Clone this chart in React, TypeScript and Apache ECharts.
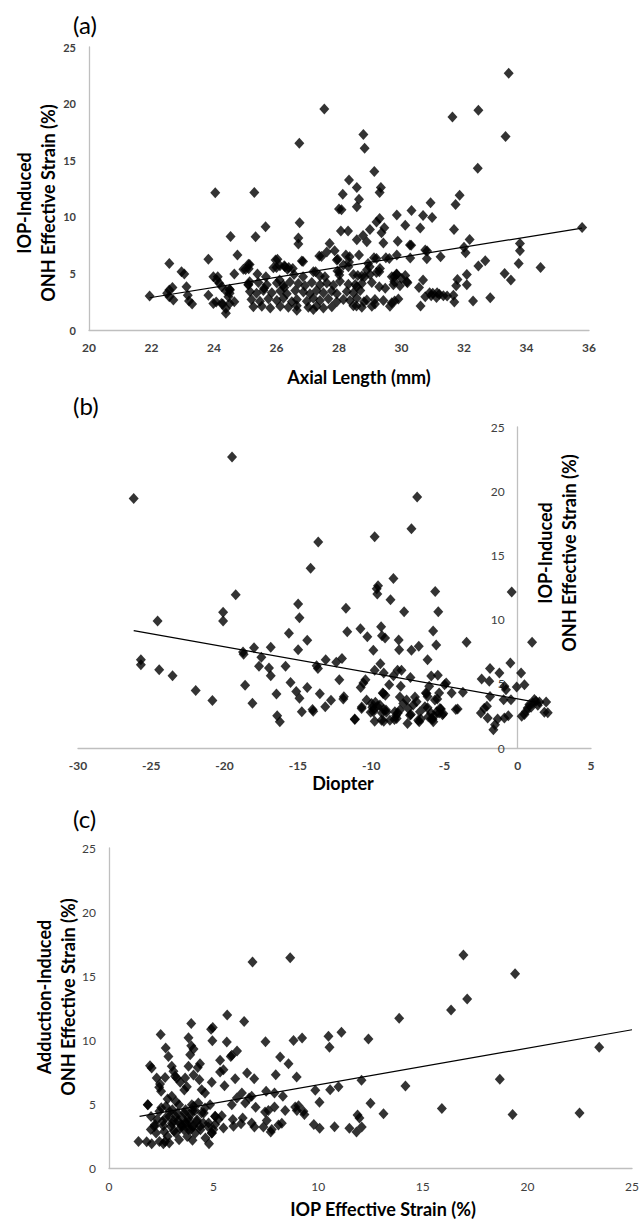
import React, { useEffect, useRef } from "react";
import * as echarts from "echarts";

// ---------- Panel (a): Axial Length (mm) vs IOP-induced ONH strain (%) ----------
const axialTicksA = [20, 36, 2];
const pointsA: number[][] = [
  [33.43,22.68],[27.53,19.53],[32.46,19.41],[31.63,18.82],[33.33,17.09],[28.78,17.26],[28.82,16.06],[26.73,16.5],
  [32.44,14.29],[29.13,14.0],[28.32,13.24],[28.57,12.59],[29.34,12.59],[29.3,12.15],[24.04,12.12],[25.29,12.15],
  [28.12,12.0],[28.64,11.56],[31.86,11.91],[30.93,11.24],[31.73,11.09],[28.57,10.88],[28.0,10.68],[28.08,10.62],
  [30.32,10.56],[29.85,10.15],[30.69,10.12],[30.98,9.94],[29.3,9.85],[29.2,9.53],[26.74,9.47],[25.65,9.12],
  [29.45,9.03],[28.99,8.88],[30.6,9.0],[31.68,8.88],[35.78,9.06],[28.06,8.74],[28.29,8.74],[30.12,9.26],
  [24.53,8.26],[25.33,8.24],[26.7,8.12],[28.77,8.35],[28.57,7.97],[28.89,7.79],[29.36,8.59],[32.18,8.0],
  [26.7,7.59],[27.7,7.65],[29.42,7.68],[29.88,7.85],[30.27,7.5],[30.31,7.48],[32.0,7.32],[33.79,7.65],
  [32.05,6.82],[33.79,7.0],[27.86,7.0],[24.75,6.62],[28.64,6.62],[30.76,7.06],[30.82,6.97],[27.44,6.5],
  [28.34,6.47],[29.2,6.32],[29.61,6.32],[30.28,6.35],[31.25,6.47],[30.81,6.29],[23.82,6.26],[26.03,6.24],
  [27.96,6.24],[26.85,6.06],[28.32,6.0],[32.68,6.12],[32.46,5.65],[33.75,5.88],[34.45,5.53],[22.57,5.88],
  [25.14,5.79],[26.25,5.68],[26.39,5.53],[26.0,5.53],[28.93,5.88],[28.98,5.59],[25.11,5.41],[25.01,5.35],
  [22.96,5.15],[23.05,4.94],[24.65,4.94],[25.39,4.94],[27.25,5.15],[28.01,5.15],[29.29,5.15],[29.84,4.94],
  [30.12,4.82],[33.3,5.0],[32.09,4.91],[33.5,4.41],[31.79,4.47],[24.12,4.71],[25.66,4.71],[26.85,4.71],
  [27.55,4.71],[28.6,4.82],[28.82,4.71],[29.77,4.71],[30.69,4.41],[32.09,4.0],[29.77,4.26],[30.19,4.18],
  [24.17,4.12],[25.14,4.26],[26.1,4.41],[25.1,3.97],[22.57,3.53],[22.67,3.76],[23.12,3.82],[24.5,3.59],
  [25.6,3.68],[26.25,3.76],[28.52,4.03],[28.57,3.82],[29.29,3.82],[29.48,3.68],[30.56,3.76],[31.75,3.91],
  [30.9,3.3],[31.0,3.24],[31.14,3.3],[31.21,3.15],[30.95,3.03],[31.12,2.88],[30.76,2.94],[31.34,3.03],
  [31.46,3.0],[31.66,3.06],[32.84,2.85],[32.29,2.56],[31.69,2.47],[30.61,2.12],[29.9,2.74],[29.78,2.56],
  [29.69,2.41],[29.15,2.29],[28.8,2.5],[28.56,2.12],[23.82,3.06],[23.16,3.06],[21.94,3.0],[22.5,3.24],
  [22.57,2.94],[22.7,2.65],[23.2,2.56],[23.3,2.29],[24.07,2.47],[24.24,2.35],[24.38,1.91],[24.38,1.47],
  [24.5,2.35],[24.65,2.5],[24.5,3.24],[24.51,3.53],
  [25.10,4.05],[25.42,4.2],[25.69,4.0],[26.01,4.15],[26.22,3.95],[26.43,4.25],[26.70,4.1],[26.91,3.9],
  [27.13,4.2],[27.39,4.0],[27.61,4.15],[27.82,3.95],[28.03,4.3],[28.3,4.05],[28.73,4.1],[29.05,4.2],
  [29.74,4.0],[29.95,3.9],
  [25.15,3.4],[25.36,3.25],[25.58,3.5],[25.85,3.3],[26.12,3.45],[26.33,3.2],[26.6,3.5],[26.86,3.35],
  [27.07,3.2],[27.28,3.5],[27.5,3.3],[27.77,3.45],[27.93,3.2],[28.25,3.4],[28.46,3.3],[28.68,3.5],
  [25.2,2.7],[25.47,2.55],[25.74,2.75],[26.01,2.6],[26.22,2.8],[26.49,2.5],[26.65,2.7],[26.97,2.55],
  [27.18,2.8],[27.39,2.6],[27.66,2.75],[27.93,2.5],[28.14,2.7],[28.35,2.6],[28.57,2.8],[28.89,2.65],
  [29.15,2.7],[29.42,2.6],
  [25.26,2.05],[25.53,2.1],[25.8,1.95],[26.12,2.1],[26.38,2.0],[26.65,2.15],[27.02,2.0],[27.28,2.1],
  [27.5,1.95],[27.77,2.05],[28.46,2.15],[28.73,2.0],[29.05,2.1],[29.63,2.1],[26.65,1.75],[27.18,1.8],
  [25.97,6.18],[26.81,6.09],[27.37,6.53],[27.61,6.9],[27.93,6.18],[28.22,6.62],[29.12,6.38],[29.5,6.38],
  [29.31,5.44],[29.85,6.62],
  [24.94,5.36],[25.1,5.8],[25.9,5.5],[26.11,5.68],[26.27,5.59],[26.35,5.36],[26.52,5.44],[26.56,4.91],
  [27.18,5.15],[27.39,4.77],[27.95,5.21],[28.01,4.86],[28.14,5.74],[28.3,5.59],[28.46,4.91],[28.73,4.77],
  [28.89,5.3],[28.99,4.91],[29.2,5.09],[29.69,4.71],[29.85,4.91],[30.0,4.56],[30.17,4.27],
  [23.98,4.71],[24.09,4.41],[24.25,3.83],[24.38,3.44],[24.46,2.94],[23.98,2.35],[24.28,2.3]
];
const trendA: number[][] = [[21.94, 2.85], [35.78, 9.0]];

// ---------- Panel (b): Diopter vs IOP-induced ONH strain (%) ----------
const diopterTicksB = [-30, 5, 5];
const pointsB: number[][] = [
  [-26.2,19.44],[-19.49,22.66],[-25.71,6.88],[-25.71,6.49],[-24.57,9.89],[-24.46,6.1],[-23.55,5.63],[-21.97,4.47],
  [-20.83,3.69],[-20.1,10.57],[-20.1,9.89],[-19.24,11.94],[-18.74,7.48],[-18.7,7.3],[-18.6,4.88],[-18.1,3.48],
  [-17.99,7.81],[-17.49,7.06],[-17.65,6.36],[-16.97,6.23],[-16.85,5.63],[-16.85,7.84],[-16.46,4.21],[-16.41,2.52],
  [-16.23,2.05],[-15.84,6.36],[-15.61,8.93],[-15.5,5.11],[-15.11,4.41],[-14.89,3.87],[-14.73,2.83],[-14.98,11.22],
  [-14.89,10.15],[-14.98,7.66],[-14.36,8.39],[-14.36,4.72],[-14.13,13.99],[-13.95,2.86],[-14.0,3.0],[-13.61,16.04],
  [-13.72,6.41],[-13.63,6.2],[-13.5,4.23],[-13.13,3.22],[-13.1,6.88],[-12.74,3.71],[-12.17,5.32],[-12.38,6.67],
  [-11.99,6.98],[-11.9,3.82],[-11.86,4.0],[-11.72,10.88],[-11.63,9.06],[-11.12,2.26],[-10.73,9.29],[-10.64,3.19],
  [-10.71,4.72],[-10.53,5.06],[-10.39,5.32],[-10.26,8.67],[-9.92,3.17],[-10.03,2.78],[-9.85,7.61],[-9.76,16.46],
  [-9.76,2.08],[-9.71,3.56],[-9.58,3.25],[-9.8,3.04],[-9.62,12.4],[-9.58,12.0],[-9.53,12.63],[-9.37,6.57],
  [-9.32,9.45],[-9.26,8.75],[-9.05,8.57],[-9.76,6.05],[-9.21,4.28],[-9.03,4.1],[-9.14,5.84],[-9.14,2.08],
  [-9.14,2.99],[-9.26,2.73],[-8.96,2.78],[-8.68,11.55],[-8.77,4.93],[-8.48,13.21],[-8.48,5.63],[-8.3,2.52],
  [-8.41,2.21],[-8.18,2.73],[-8.12,8.41],[-8.09,7.66],[-8.2,6.05],[-7.93,6.05],[-7.98,4.8],[-7.75,10.62],
  [-7.52,1.9],[-7.29,2.6],[-7.25,17.08],[-7.32,5.5],[-7.25,7.61],[-6.86,19.55],[-6.75,7.92],[-6.72,2.05],
  [-6.61,2.26],[-6.15,6.88],[-6.04,4.8],[-6.27,4.28],[-6.15,4.02],[-6.15,3.14],[-5.92,2.73],[-5.81,2.21],
  [-5.7,2.47],[-5.77,9.11],[-5.63,12.18],[-5.56,8.02],[-5.9,5.6],[-5.45,5.66],[-5.49,3.82],[-5.36,4.28],
  [-5.42,10.62],[-5.24,3.04],[-5.13,2.58],[-5.36,2.73],[-4.99,4.93],[-4.88,5.06],[-4.51,4.28],[-4.1,3.04],
  [-3.74,4.34],[-3.49,8.23],[-2.51,2.73],[-2.46,5.37],[-2.28,3.09],[-2.1,3.25],[-2.05,2.34],[-1.94,5.19],
  [-1.89,6.2],[-1.89,4.02],[-1.66,1.43],[-1.55,1.82],[-1.37,2.26],[-1.25,5.84],[-0.91,4.8],[-0.8,4.54],
  [-0.96,3.76],[-0.91,2.34],[-0.64,2.52],[-0.5,6.62],[-0.46,3.76],[-0.41,12.15],[-0.07,4.75],[0.23,5.84],
  [0.46,4.93],[0.27,2.47],[0.46,2.6],[0.57,2.86],[0.68,3.12],[0.8,3.38],[0.91,3.17],[1.03,3.51],
  [1.14,3.77],[0.98,8.23],[1.25,3.64],[1.37,3.33],[1.48,3.59],[1.94,3.59],[2.05,2.75],[1.82,2.78],
  [-11.11,2.22],[-10.65,3.08],[-10.31,3.73],[-9.97,3.47],[-9.85,2.82],[-9.4,3.34],[-9.29,2.17],[-9.17,4.24],
  [-8.99,2.95],[-8.72,2.17],[-8.38,2.82],[-8.26,2.3],[-8.04,2.95],[-8.04,3.98],[-7.81,3.47],[-7.58,3.73],
  [-7.47,3.08],[-7.35,2.56],[-7.13,3.34],[-7.01,3.98],[-6.9,3.6],[-6.79,2.17],[-6.67,2.82],[-6.33,3.21],
  [-6.22,4.24],[-6.1,2.43],[-5.88,2.3],[-5.76,2.04],[-5.65,3.73],[-5.53,2.82],[-5.31,3.08],[-5.08,2.69],
  [-4.22,3.0]
];
const trendB: number[][] = [[-26.2, 9.14], [1.6, 3.5]];

// ---------- Panel (c): IOP strain (%) vs adduction-induced ONH strain (%) ----------
const iopTicksC = [0, 25, 5];
const pointsC: number[][] = [
  [6.86,16.09],[8.66,16.43],[16.94,16.64],[19.41,15.18],[17.12,13.2],[16.35,12.34],[13.87,11.69],[23.43,9.43],
  [18.68,6.93],[19.29,4.17],[22.49,4.3],[15.91,4.64],[14.17,6.41],[13.12,4.24],[12.5,5.05],[12.07,6.85],
  [12.4,10.08],[11.97,3.9],[11.88,4.15],[12.08,3.2],[11.83,2.81],[11.49,3.1],[11.11,10.6],[10.49,10.29],
  [10.54,9.43],[10.97,6.35],[10.57,6.12],[10.78,3.23],[10.06,5.13],[9.86,6.07],[10.07,3.1],[9.79,3.39],
  [9.23,10.16],[8.82,9.97],[8.18,8.67],[8.58,8.15],[8.97,7.11],[7.97,7.29],[7.48,9.87],[7.51,5.99],
  [7.91,5.86],[8.31,5.6],[8.42,4.5],[8.9,4.76],[8.98,4.5],[9.06,4.87],[9.34,4.17],[9.29,4.43],
  [7.91,4.76],[7.62,4.5],[7.46,4.37],[7.54,3.72],[7.38,3.2],[7.78,3.0],[7.73,2.81],[8.1,3.36],
  [8.26,3.49],[6.94,6.98],[6.6,7.42],[6.46,11.45],[5.65,11.95],[4.96,10.97],[4.88,10.84],[4.94,9.95],
  [5.63,9.84],[5.82,8.72],[5.87,8.8],[6.12,9.14],[5.31,8.41],[5.47,7.68],[5.31,7.5],[5.52,6.43],
  [6.03,6.98],[4.91,6.69],[3.93,11.28],[3.8,10.18],[3.93,9.56],[4.04,9.3],[3.88,8.85],[3.8,7.94],
  [4.35,8.15],[4.24,7.86],[4.04,7.27],[4.32,6.9],[4.43,6.12],[4.59,5.86],[2.47,10.42],[2.71,9.37],
  [2.84,8.72],[3.0,7.94],[3.08,7.55],[3.16,7.16],[1.96,7.99],[2.04,7.81],[2.28,7.03],[2.68,7.08],
  [2.44,6.56],[2.49,6.0],[3.24,7.03],[3.64,7.03],[3.72,6.35],[1.85,4.95],[1.41,2.08],[1.8,2.05],
  [2.04,1.9],[2.6,1.9],[2.68,2.08],[3.99,2.16],[4.78,1.9],
  [6.35,5.86],[6.51,5.08],[6.11,5.47],[5.87,4.95],[6.7,5.47],[6.82,5.6],[7.01,4.74],[6.82,3.52],
  [6.95,3.2],[6.39,3.91],[6.31,3.46],[5.95,3.26],[5.92,3.78],[5.47,3.13],[5.23,3.78],[5.07,4.04],
  [5.39,4.09],[4.75,3.2],[4.91,2.73],[4.99,3.0],[5.07,3.39],[4.59,4.69],[4.83,4.95],[4.43,4.3],
  [3.96,4.95],[4.11,4.5],[4.27,5.08],[3.64,3.52],[3.8,3.0],[4.04,3.26],[4.2,3.65],[4.35,3.26],[4.51,3.52],
  [1.86,4.95],[2.01,4.03],[2.17,3.25],[2.25,2.73],[2.41,4.43],[2.56,3.64],[2.64,2.86],[2.72,4.82],
  [2.8,2.47],[2.88,4.03],[2.96,3.25],[3.03,4.56],[3.11,3.64],[3.19,2.73],[3.27,4.29],[3.35,4.95],
  [3.43,3.38],[3.51,3.9],[3.58,2.99],[3.66,4.56],[3.74,2.47],[3.82,3.64],[3.9,4.16],[3.98,3.25],
  [4.05,4.82],[4.13,2.73],[4.21,3.77],[4.37,2.99],[4.53,4.29],[4.76,3.51],[4.92,2.73],[5.08,4.03],
  [4.61,2.34],[2.41,2.08],[2.88,1.95],[3.35,2.21],
  [2.7,3.9],[3.0,3.5],[3.2,4.0],[3.4,3.1],[3.6,4.3],[3.3,3.7],[2.9,4.4],[3.5,3.3],[3.8,3.9],[2.6,3.3],
  [3.1,2.9],[3.7,3.5],[2.3,3.8],[2.2,3.4],[2.0,3.0],[4.0,4.5],[3.9,3.0],[2.5,4.7],[3.2,5.2],[2.8,5.4],
  [3.0,5.6],[3.4,6.7],[3.6,6.1],[2.4,6.3]
];
const trendC: number[][] = [[1.46, 4.04], [25, 10.8]];

const strainTicks = [0, 25, 5];

const FONT = "Lato, 'Open Sans', sans-serif";
const AXIS_GRAY = "#bfbfbf";

// grid geometry (pixels)
const GRID_B_LEFT = 78;
const GRID_B_WIDTH = 513;

export default function App() {
  const ref = useRef<HTMLDivElement>(null);

  useEffect(() => {
    document.body.style.margin = "0";
    if (!ref.current) return;
    const chart = echarts.init(ref.current, undefined, { renderer: "svg" });

    const xAxisBase = (ticks: number[], gi: number, bold: boolean) => ({
      type: "value" as const,
      gridIndex: gi,
      min: ticks[0],
      max: ticks[1],
      interval: ticks[2],
      axisLine: { show: true, onZero: false, lineStyle: { color: AXIS_GRAY, width: 1.3 } },
      axisTick: { show: false },
      splitLine: { show: false },
      axisLabel: {
        fontFamily: FONT,
        fontSize: 12,
        fontWeight: bold ? ("bold" as const) : ("normal" as const),
        color: "#404040",
        margin: bold ? 11 : 12,
      },
    });
    const yAxisBase = (gi: number, bold: boolean, offset = 0) => ({
      type: "value" as const,
      gridIndex: gi,
      min: strainTicks[0],
      max: strainTicks[1],
      interval: strainTicks[2],
      offset,
      axisLine: { show: true, onZero: false, lineStyle: { color: AXIS_GRAY, width: 1.3 } },
      axisTick: { show: false },
      splitLine: { show: false },
      axisLabel: {
        fontFamily: FONT,
        fontSize: bold ? 11 : 12,
        fontWeight: bold ? ("bold" as const) : ("normal" as const),
        color: "#404040",
        margin: 13,
      },
    });

    // y axis of panel (b) crosses the x axis at diopter 0
    const zeroOffsetB =
      -((0 - diopterTicksB[0]) / (diopterTicksB[1] - diopterTicksB[0])) * GRID_B_WIDTH;

    const scatter = (data: number[][], gi: number) => ({
      type: "scatter" as const,
      xAxisIndex: gi,
      yAxisIndex: gi,
      data,
      symbol: "diamond",
      symbolSize: [10, 11],
      itemStyle: { color: "#000" },
      silent: true,
      z: 3,
    });
    const trend = (data: number[][], gi: number) => ({
      type: "line" as const,
      xAxisIndex: gi,
      yAxisIndex: gi,
      data,
      symbol: "none",
      lineStyle: { color: "#000", width: 1.2 },
      silent: true,
      z: 4,
    });

    const titleStyle = (txt: string, x: number, y: number, rot = 0) => ({
      type: "text" as const,
      x,
      y,
      rotation: rot,
      silent: true,
      style: {
        text: txt,
        fontFamily: FONT,
        fontSize: 18,
        fontWeight: "bold",
        fill: "#000",
        textAlign: "center",
        textVerticalAlign: "middle",
        lineHeight: 24,
      },
    });
    const panelLabel = (txt: string, x: number, y: number) => ({
      type: "text" as const,
      x,
      y,
      silent: true,
      style: {
        text: txt,
        fontFamily: FONT,
        fontSize: 24,
        fill: "#000",
        textAlign: "left",
        textVerticalAlign: "middle",
      },
    });

    chart.setOption({
      animation: false,
      backgroundColor: "#fff",
      grid: [
        { left: 89, top: 47, width: 500, height: 283 },
        { left: GRID_B_LEFT, top: 427, width: GRID_B_WIDTH, height: 321 },
        { left: 109, top: 848, width: 530, height: 320 },
      ],
      xAxis: [
        xAxisBase(axialTicksA, 0, true),
        xAxisBase(diopterTicksB, 1, true),
        xAxisBase(iopTicksC, 2, false),
      ],
      yAxis: [
        yAxisBase(0, true),
        yAxisBase(1, false, zeroOffsetB),
        yAxisBase(2, false),
      ],
      series: [
        scatter(pointsA, 0),
        trend(trendA, 0),
        scatter(pointsB, 1),
        trend(trendB, 1),
        scatter(pointsC, 2),
        trend(trendC, 2),
      ],
      graphic: [
        panelLabel("(a)", 73, 24),
        panelLabel("(b)", 73, 405),
        panelLabel("(c)", 73, 818),
        titleStyle("Axial Length (mm)", 359, 377),
        titleStyle("IOP-Induced\nONH Effective Strain (%)", 36, 203, Math.PI / 2),
        titleStyle("Diopter", 343, 783),
        titleStyle("IOP-Induced\nONH Effective Strain (%)", 557, 553, Math.PI / 2),
        titleStyle("IOP Effective Strain (%)", 383, 1209),
        titleStyle("Adduction-Induced\nONH Effective Strain (%)", 56, 997, Math.PI / 2),
      ],
    });

    return () => chart.dispose();
  }, []);

  return <div ref={ref} style={{ width: 642, height: 1222 }} />;
}
